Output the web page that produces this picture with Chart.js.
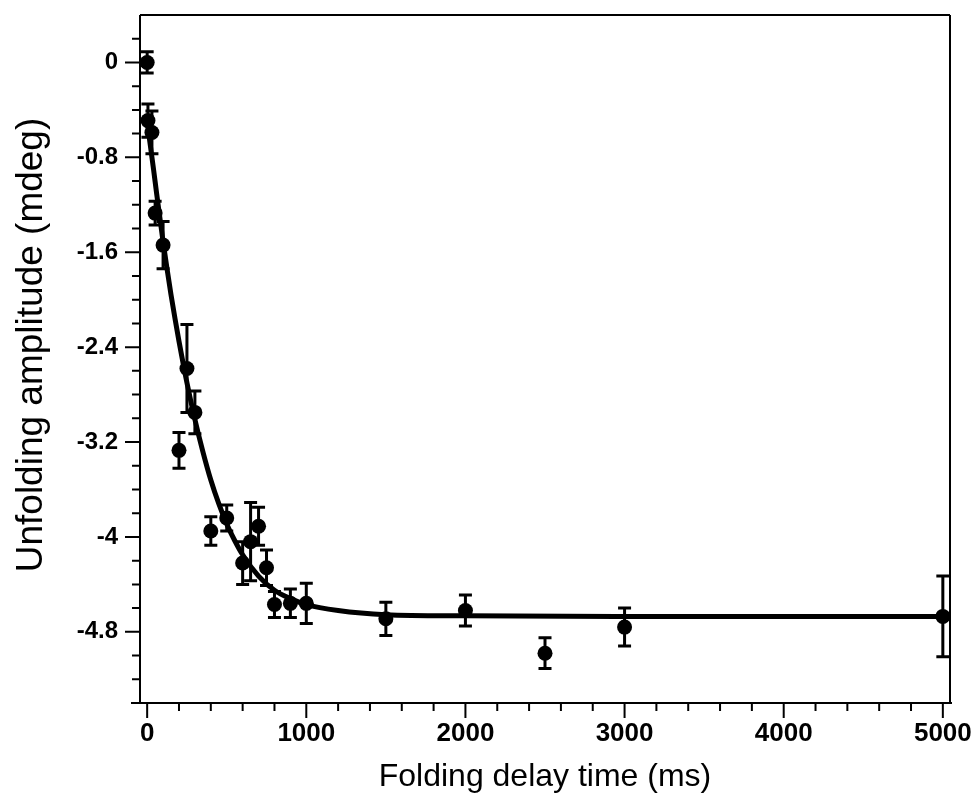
<!DOCTYPE html>
<html>
<head>
<meta charset="utf-8">
<script src="https://cdn.jsdelivr.net/npm/chart.js@4.4.0/dist/chart.umd.min.js"></script>
<style>
  html, body { margin: 0; padding: 0; background: #fff; }
</style>
</head>
<body>
<canvas id="chart" width="977" height="798"></canvas>
<script>
// measured points (ms, mdeg) with error bars
const delayTimes = [0, 5, 30, 50, 100, 200, 250, 300, 400, 500, 600, 650, 700, 750, 800, 900, 1000, 1500, 2000, 2500, 3000, 5000];
const amplitudes = [0.00, -0.49, -0.59, -1.27, -1.54, -3.27, -2.58, -2.95, -3.95, -3.84, -4.22, -4.04, -3.91, -4.26, -4.57, -4.56, -4.56, -4.69, -4.62, -4.98, -4.76, -4.67];
const amplitudeErrors = [0.09, 0.14, 0.18, 0.10, 0.20, 0.15, 0.37, 0.18, 0.12, 0.11, 0.18, 0.33, 0.16, 0.15, 0.11, 0.12, 0.17, 0.14, 0.13, 0.13, 0.16, 0.34];

// fitted curve
const fitTimes = [0, 20, 40, 60, 80, 100, 125, 150, 175, 200, 250, 300, 350, 400, 450, 500, 550, 600, 700, 800, 900, 1000, 1200, 1500, 2000, 3000, 5000];
const fitAmplitudes = [-0.50, -0.70, -0.90, -1.11, -1.31, -1.51, -1.74, -1.96, -2.16, -2.35, -2.70, -3.01, -3.28, -3.52, -3.72, -3.89, -4.03, -4.15, -4.33, -4.45, -4.52, -4.57, -4.62, -4.655, -4.665, -4.67, -4.67];

const xTickValues = [0, 1000, 2000, 3000, 4000, 5000];
const yTickValues = [0, -0.8, -1.6, -2.4, -3.2, -4, -4.8];
const xMinorStep = 200;
const yMinorStep = 0.2;
const yTitle = 'Unfolding amplitude (mdeg)';

const FONT = "'Liberation Sans', Arial, Helvetica, sans-serif";

// error bars for the measured points
const errorBars = {
  id: 'errorBars',
  afterDatasetsDraw(chart) {
    const x = chart.scales.x, y = chart.scales.y;
    const ctx = chart.ctx;
    ctx.save();
    ctx.strokeStyle = '#000';
    ctx.lineWidth = 3;
    delayTimes.forEach((t, i) => {
      const px = x.getPixelForValue(t);
      const top = y.getPixelForValue(amplitudes[i] + amplitudeErrors[i]);
      const bot = y.getPixelForValue(amplitudes[i] - amplitudeErrors[i]);
      ctx.beginPath();
      ctx.moveTo(px, top); ctx.lineTo(px, bot);
      ctx.moveTo(px - 6.5, top); ctx.lineTo(px + 6.5, top);
      ctx.moveTo(px - 6.5, bot); ctx.lineTo(px + 6.5, bot);
      ctx.stroke();
    });
    ctx.restore();
  }
};

// box frame, outside ticks (major and minor), y title
const frameTicks = {
  id: 'frameTicks',
  afterDraw(chart) {
    const a = chart.chartArea;
    const x = chart.scales.x, y = chart.scales.y;
    const ctx = chart.ctx;
    ctx.save();
    ctx.strokeStyle = '#000';
    ctx.lineWidth = 2;
    ctx.beginPath();
    ctx.moveTo(a.left, a.top); ctx.lineTo(a.right, a.top);
    ctx.moveTo(a.right, a.top); ctx.lineTo(a.right, a.bottom);
    ctx.moveTo(a.left, a.top); ctx.lineTo(a.left, a.bottom);
    ctx.moveTo(a.left - 9, a.bottom); ctx.lineTo(a.right + 2, a.bottom);
    ctx.stroke();

    ctx.beginPath();
    for (let v = 0; v <= 5000; v += xMinorStep) {
      const px = x.getPixelForValue(v);
      const len = xTickValues.includes(v) ? 15 : 8;
      ctx.moveTo(px, a.bottom); ctx.lineTo(px, a.bottom + len);
    }
    for (let k = -26; k <= 1; k++) {
      const v = k * yMinorStep;
      const py = y.getPixelForValue(v);
      const major = yTickValues.some(t => Math.abs(t - v) < 1e-6);
      ctx.moveTo(a.left - (major ? 15 : 8), py); ctx.lineTo(a.left, py);
    }
    ctx.stroke();

    // y title sits a bit above the middle of the axis in the original
    ctx.translate(32, 345);
    ctx.rotate(-Math.PI / 2);
    ctx.fillStyle = '#000';
    ctx.font = '37px ' + FONT;
    ctx.textAlign = 'center';
    ctx.textBaseline = 'middle';
    ctx.fillText(yTitle, 0, 0);
    ctx.restore();
  }
};

const noPad = s => { s.paddingTop = 0; s.paddingBottom = 0; s.paddingLeft = 0; s.paddingRight = 0; };

new Chart(document.getElementById('chart'), {
  type: 'scatter',
  data: {
    datasets: [
      {
        label: 'fit',
        data: fitTimes.map((t, i) => ({ x: t, y: fitAmplitudes[i] })),
        showLine: true,
        borderColor: '#000',
        borderWidth: 5,
        pointRadius: 0,
        cubicInterpolationMode: 'monotone'
      },
      {
        label: 'data',
        data: delayTimes.map((t, i) => ({ x: t, y: amplitudes[i] })),
        backgroundColor: '#000',
        borderWidth: 0,
        pointRadius: 7.5
      }
    ]
  },
  options: {
    responsive: false,
    animation: false,
    devicePixelRatio: 1,
    layout: { padding: { top: 15, right: 27, left: 0, bottom: 0 } },
    plugins: { legend: { display: false }, tooltip: { enabled: false } },
    scales: {
      x: {
        type: 'linear',
        min: -45,
        max: 5045,
        afterFit: s => { s.height = 95; noPad(s); },
        afterBuildTicks: s => { s.ticks = xTickValues.map(v => ({ value: v })); },
        grid: { display: false, drawTicks: false },
        border: { display: false },
        ticks: {
          color: '#000',
          padding: 15,
          maxRotation: 0,
          autoSkip: false,
          font: { family: FONT, size: 26, weight: 'bold' },
          callback: v => String(v)
        },
        title: {
          display: true,
          text: 'Folding delay time (ms)',
          color: '#000',
          padding: { bottom: 2 },
          font: { family: FONT, size: 32 }
        }
      },
      y: {
        type: 'linear',
        min: -5.4,
        max: 0.4,
        afterFit: s => { s.width = 140; noPad(s); },
        afterBuildTicks: s => { s.ticks = yTickValues.map(v => ({ value: v })); },
        grid: { display: false, drawTicks: false },
        border: { display: false },
        ticks: {
          color: '#000',
          padding: 22,
          autoSkip: false,
          font: { family: FONT, size: 24, weight: 'bold' },
          callback: v => String(v)
        }
      }
    }
  },
  plugins: [errorBars, frameTicks]
});
</script>
</body>
</html>
